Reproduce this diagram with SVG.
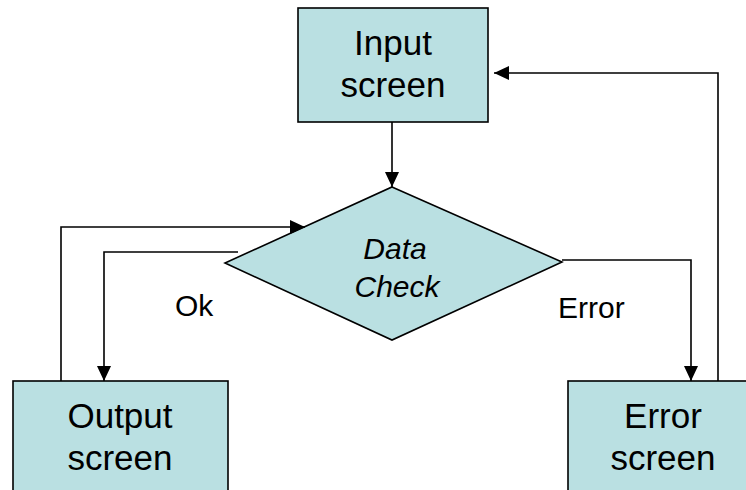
<svg xmlns="http://www.w3.org/2000/svg" width="746" height="490" viewBox="0 0 746 490">
  <defs>
    <marker id="arrow" markerWidth="15" markerHeight="14" refX="15" refY="7" orient="auto" markerUnits="userSpaceOnUse" viewBox="0 0 15 14">
      <path d="M0,0 L15,7 L0,14 Z" fill="#000"/>
    </marker>
    <style>
      .shape { fill: #BAE0E2; stroke: #000; stroke-width: 1.6; }
      .label { font-family: "Liberation Sans", Arial, sans-serif; font-size: 35px; fill: #000; text-anchor: middle; }
      .decision { font-family: "Liberation Sans", Arial, sans-serif; font-size: 30px; font-style: italic; fill: #000; text-anchor: middle; }
      .edge-label { font-family: "Liberation Sans", Arial, sans-serif; font-size: 30px; fill: #000; }
      .link { fill: none; stroke: #000; stroke-width: 1.6; }
    </style>
  </defs>
  <rect width="746" height="490" fill="#fff"/>

  <g id="input-screen">
    <rect class="shape" x="298" y="8" width="190" height="114"/>
    <text class="label" x="393" y="55">Input</text>
    <text class="label" x="393" y="97">screen</text>
  </g>

  <g id="data-check">
    <polygon class="shape" points="392,187 562,262 392,340 225,263"/>
    <text class="decision" x="395" y="259">Data</text>
    <text class="decision" x="397" y="297">Check</text>
  </g>

  <g id="output-screen">
    <rect class="shape" x="13" y="381" width="215" height="130"/>
    <text class="label" x="120" y="428">Output</text>
    <text class="label" x="120" y="470">screen</text>
  </g>

  <g id="error-screen">
    <rect class="shape" x="568" y="381" width="200" height="130"/>
    <text class="label" x="663" y="428">Error</text>
    <text class="label" x="663" y="470">screen</text>
  </g>

  <g id="connectors">
    <path class="link" d="M392,122 V187" marker-end="url(#arrow)"/>
    <path class="link" d="M61,381 V227 H305" marker-end="url(#arrow)"/>
    <path class="link" d="M238,252 H104 V381" marker-end="url(#arrow)"/>
    <path class="link" d="M562,260 H691 V381" marker-end="url(#arrow)"/>
    <path class="link" d="M718,381 V73 H494" marker-end="url(#arrow)"/>
    <text class="edge-label" x="175" y="316">Ok</text>
    <text class="edge-label" x="558" y="318">Error</text>
  </g>
</svg>
